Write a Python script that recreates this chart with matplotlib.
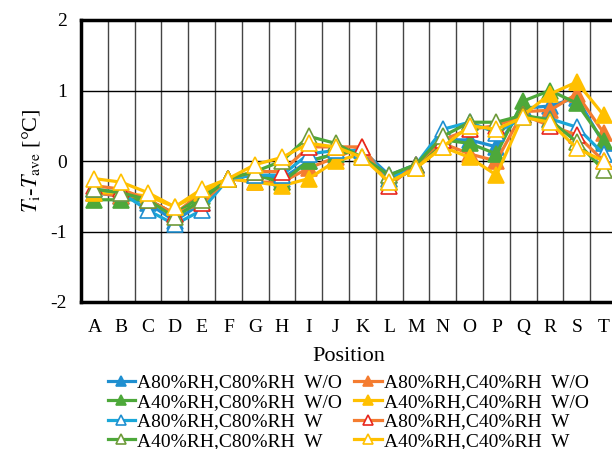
import matplotlib
matplotlib.use("Agg")
import matplotlib.pyplot as plt
import numpy as np

plt.rcParams['font.family'] = ['Liberation Serif', 'DejaVu Serif']
plt.rcParams['mathtext.fontset'] = 'stix'
plt.rcParams['axes.unicode_minus'] = False

positions = list("ABCDEFGHIJKLMNOPQRST")

# W/O series (filled markers)
a80c80_wo = [-0.45, -0.50, -0.60, -0.85, -0.60, -0.25, -0.20, -0.25, 0.00, 0.10,
             0.15, -0.20, -0.05, 0.30, 0.30, 0.20, 0.75, 0.78, 0.90, 0.25]
a80c40_wo = [-0.45, -0.50, -0.55, -0.75, -0.45, -0.25, -0.30, -0.30, -0.10, 0.05,
             0.20, -0.30, -0.10, 0.25, 0.10, 0.00, 0.70, 0.72, 0.95, 0.40]
a40c80_wo = [-0.55, -0.55, -0.55, -0.75, -0.50, -0.25, -0.20, -0.30, 0.00, 0.10,
             0.15, -0.30, -0.10, 0.30, 0.25, 0.10, 0.85, 1.00, 0.82, 0.28]
a40c40_wo = [-0.45, -0.45, -0.50, -0.65, -0.45, -0.25, -0.30, -0.35, -0.25, 0.00,
             0.10, -0.25, -0.10, 0.20, 0.05, -0.20, 0.65, 0.95, 1.12, 0.65]
# W series (open markers)
a80c80_w = [-0.40, -0.45, -0.70, -0.90, -0.70, -0.25, -0.20, -0.20, 0.10, 0.15,
            0.15, -0.25, -0.05, 0.45, 0.55, 0.40, 0.62, 0.60, 0.48, 0.10]
a80c40_w = [-0.35, -0.40, -0.55, -0.75, -0.60, -0.25, -0.15, -0.15, 0.20, 0.20,
            0.20, -0.35, -0.05, 0.30, 0.45, 0.50, 0.65, 0.50, 0.37, 0.00]
a40c80_w = [-0.40, -0.45, -0.55, -0.80, -0.55, -0.25, -0.15, 0.00, 0.35, 0.25,
            0.05, -0.20, -0.05, 0.35, 0.55, 0.55, 0.65, 0.58, 0.27, -0.13]
a40c40_w = [-0.25, -0.30, -0.45, -0.65, -0.40, -0.25, -0.05, 0.05, 0.25, 0.20,
            0.05, -0.30, -0.10, 0.20, 0.50, 0.45, 0.62, 0.55, 0.18, 0.00]

labels = ["A80%RH,C80%RH  W/O", "A80%RH,C40%RH  W/O",
          "A40%RH,C80%RH  W/O", "A40%RH,C40%RH  W/O",
          "A80%RH,C80%RH  W", "A80%RH,C40%RH  W",
          "A40%RH,C80%RH  W", "A40%RH,C40%RH  W"]
series = [a80c80_wo, a80c40_wo, a40c80_wo, a40c40_wo,
          a80c80_w, a80c40_w, a40c80_w, a40c40_w]
line_colors = ["#1F8FD0", "#F47C30", "#4DA83A", "#FFC000",
               "#1AA7D8", "#F47C30", "#4DA83A", "#FFC000"]
edge_colors = ["#1F8FD0", "#F47C30", "#4DA83A", "#FFC000",
               "#1F8FD0", "#E8261E", "#6E9A3A", "#FFC000"]
filled = [True, True, True, True, False, False, False, False]

fig = plt.figure(figsize=(6.12, 4.49), dpi=100)
ax = fig.add_axes([81/612, 1 - 302/449, 536/612, 282/449])

x = np.arange(len(positions))
handles = []
for ys, lab, lc, ec, f in zip(series, labels, line_colors, edge_colors, filled):
    h, = ax.plot(x, ys, color=lc, lw=2.3, marker='^', ms=11,
                 markerfacecolor=lc if f else 'white', markeredgecolor=ec,
                 markeredgewidth=1.2, label=lab, clip_on=False)
    handles.append(h)

ax.set_xlim(-0.5, 19.5)
ax.set_ylim(-2, 2)
ax.set_yticks([-2, -1, 0, 1, 2])
ax.set_xticks(x)
ax.set_xticklabels(positions)
ax.set_xticks(np.arange(-0.5, 19.6, 1), minor=True)
ax.tick_params(which='both', length=0, labelsize=14)
ax.tick_params(axis='x', pad=12)
ax.tick_params(axis='y', pad=10)
ax.grid(axis='y', color='black', lw=1)
ax.grid(axis='x', which='minor', color='#444444', lw=1)
ax.set_axisbelow(True)
for s in ['top', 'bottom', 'left']:
    ax.spines[s].set_linewidth(2.5)
ax.spines['right'].set_visible(False)

ax.set_xlabel("Position", fontsize=16, labelpad=8)
ax.set_ylabel(r"$T_{\mathrm{i}}$-$T_{\mathrm{ave}}$ [°C]", fontsize=16, labelpad=6)

order = [0, 2, 4, 6, 1, 3, 5, 7]
fig.legend([handles[i] for i in order], [labels[i] for i in order],
           loc='upper left', bbox_to_anchor=(98/612, 1 - 364/449), ncol=2,
           frameon=False, fontsize=14, handlelength=1.4, handletextpad=0.1,
           columnspacing=0.65, labelspacing=0.1, borderpad=0, markerscale=0.6)

fig.savefig("out.png", dpi=100)
